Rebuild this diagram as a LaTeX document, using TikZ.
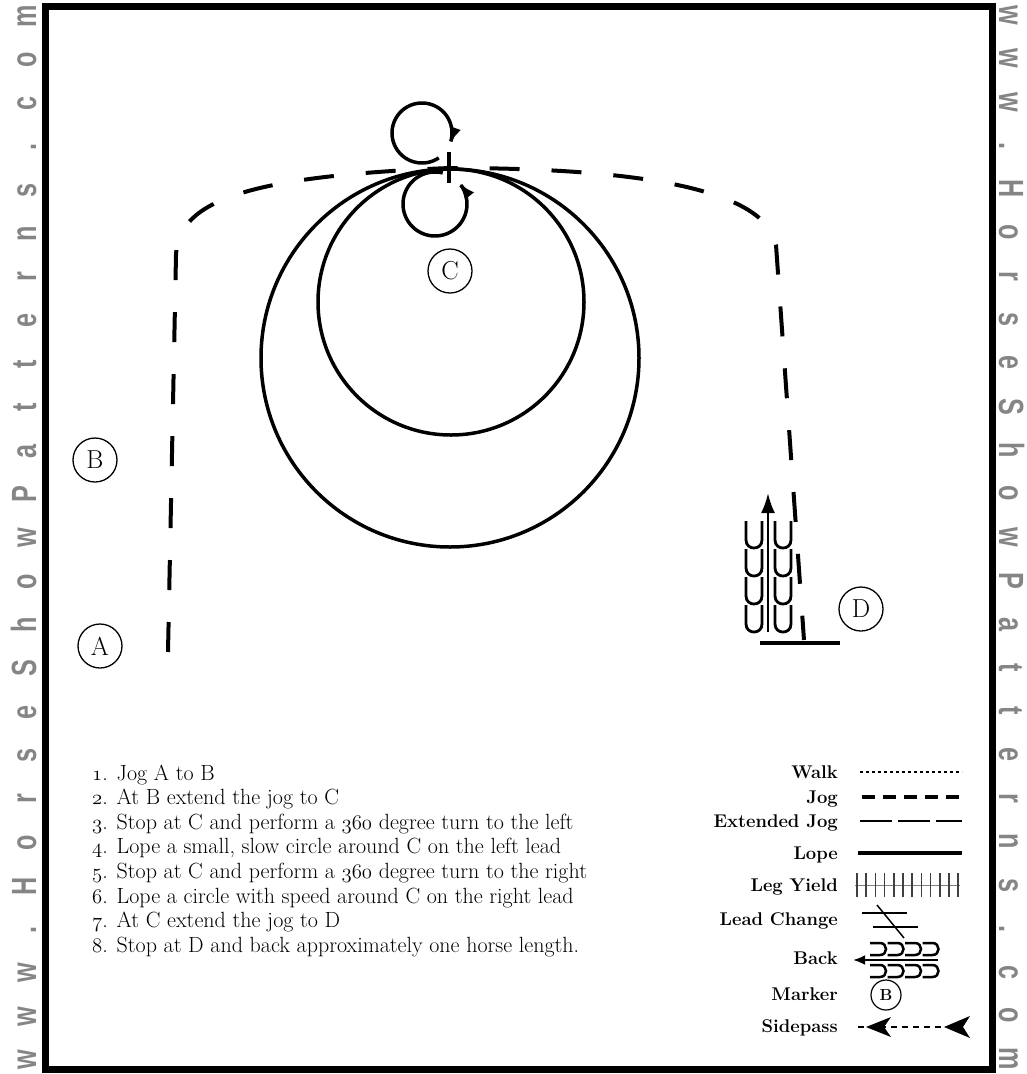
\documentclass[tikz,border=0pt]{standalone}
\usepackage{fontspec}
\newfontfamily\wmfont{Liberation Sans}
\usetikzlibrary{arrows.meta}
\definecolor{wmgray}{gray}{0.52}
\newcommand{\osn}[1]{{\usefont{OML}{cmm}{m}{it}#1}}
\begin{document}
\begin{tikzpicture}[x=1pt,y=-1pt,
  mk/.style={circle,draw,line width=1.3pt,minimum size=44pt,inner sep=0pt,font=\fontsize{26}{26}\selectfont},
  jogline/.style={line width=4pt,dash pattern=on 30pt off 32pt},
  lope/.style={line width=3.5pt},
  instr/.style={anchor=base west,inner sep=0pt,font=\fontsize{22}{24}\selectfont},
  leglab/.style={anchor=base east,inner sep=0pt,font=\bfseries\fontsize{18.4}{18}\selectfont},
  wm/.style={inner sep=0pt,text=wmgray,font=\wmfont\bfseries\fontsize{35}{35}\selectfont}
]
\useasboundingbox (0,0) rectangle (1027,1074);
% frame
\draw[line width=7pt] (45.5,6) rectangle (992.5,1069);
% watermark
\foreach \ch [count=\i from 0] in {w,w,w,.,H,o,r,s,e,S,h,o,w,P,a,t,t,e,r,n,s,.,c,o,m}{
  \node[wm,rotate=90,anchor=base] (wl\i) at (36,{1060-43.5*\i}) {\scalebox{0.72}[1]{\ch}};
  \node[wm,rotate=-90,anchor=base] (wr\i) at (999,{15+43.5*\i}) {\scalebox{0.72}[1]{\ch}};
}
% circles
\draw[lope] (450,358) circle[radius=189pt];
\draw[lope] (451,302) circle[radius=133pt];
% jog path
\draw[jogline] (168,652) -- (176,255) .. controls (178,200) and (250,176) .. (450,168)
  .. controls (620,168) and (765,185) .. (776,245) -- (804,640);
% turn loops
\draw[line width=3.5pt,-{Latex[length=16pt,width=12pt]}] plot[domain=56:380,samples=70,smooth] ({422+30*cos(\x)},{133+30*sin(\x)});
\draw[line width=3.5pt,-{Latex[length=16pt,width=12pt]}] plot[domain=-76:-400,samples=70,smooth] ({435+32*cos(\x)},{204+32*sin(\x)});
\draw[line width=3.5pt] (449,152) -- (449,183);
% back symbol at D
\draw[line width=2.5pt,-{Latex[length=20pt,width=14pt]}] (768,632) -- (768,493);
\foreach \cx in {754,783}{
  \foreach \r in {0,1,2,3}{
    \pgfmathsetmacro{\t}{521+28*\r}
    \pgfmathsetmacro{\b}{\t+27}
    \draw[line width=2.8pt] (\cx-8,\t) -- (\cx-8,\b-8) .. controls (\cx-8,\b+2.7) and (\cx+8,\b+2.7) .. (\cx+8,\b-8) -- (\cx+8,\t);
  }
}
\draw[line width=3.5pt] (760,643) -- (840,643);
% markers
\node[mk] (A) at (100,646) {A};
\node[mk] (B) at (95,460) {B};
\node[mk] (C) at (450,271) {C};
\node[mk] (D) at (861,609) {D};
% instructions
\node[instr] (i1) at (92,780) {\osn{1}. Jog A to B};
\node[instr] (i2) at (92,804.6) {\osn{2}. At B extend the jog to C};
\node[instr] (i3) at (92,829.2) {\osn{3}. Stop at C and perform a \osn{360} degree turn to the left};
\node[instr] (i4) at (92,853.8) {\osn{4}. Lope a small, slow circle around C on the left lead};
\node[instr] (i5) at (92,878.4) {\osn{5}. Stop at C and perform a \osn{360} degree turn to the right};
\node[instr] (i6) at (92,903) {\osn{6}. Lope a circle with speed around C on the right lead};
\node[instr] (i7) at (92,927.6) {\osn{7}. At C extend the jog to D};
\node[instr] (i8) at (92,952.2) {\osn{8}. Stop at D and back approximately one horse length.};
% legend labels
\node[leglab] (lw) at (838,778) {Walk};
\node[leglab] (lj) at (838,803) {Jog};
\node[leglab] (le) at (838,827) {Extended Jog};
\node[leglab] (ll) at (838,859) {Lope};
\node[leglab] (ly) at (838,891) {Leg Yield};
\node[leglab] (lc) at (838,925) {Lead Change};
\node[leglab] (lb) at (838,964) {Back};
\node[leglab] (lm) at (838,1000) {Marker};
\node[leglab] (ls) at (838,1032) {Sidepass};
% legend symbols
\draw[line width=2.5pt,dash pattern=on 3pt off 3pt] (860,772) -- (962,772);
\draw[line width=4pt,dash pattern=on 13pt off 8pt] (862,797) -- (963,797);
\draw[line width=1.6pt,dash pattern=on 32pt off 6pt] (860,821) -- (962,821);
\draw[line width=3.5pt] (858,853) -- (962,853);
\draw[line width=0.8pt,gray] (855,885) -- (960,885);
\foreach \k in {0,...,11} \draw[line width=1.6pt,black!75] ({857+9.2*\k},873) -- ({857+9.2*\k},897);
\draw[line width=1.5pt] (862,913) -- (907,913);
\draw[line width=1.5pt] (873,927) -- (918,927);
\draw[line width=1.5pt] (877,905) -- (904,938);
\draw[line width=2.5pt,-{Latex[length=12pt,width=10pt]}] (938,960) -- (853,960);
\foreach \xo in {870,887.5,905,922.5}{
  \foreach \yt in {943,965}{
    \draw[line width=2.5pt] (\xo,\yt) -- (\xo+10,\yt) .. controls (\xo+18,\yt) and (\xo+18,\yt+12) .. (\xo+10,\yt+12) -- (\xo,\yt+12);
  }
}
\node[circle,draw,line width=1.2pt,minimum size=30pt,inner sep=0pt,font=\bfseries\fontsize{16}{16}\selectfont] (legB) at (886,995) {B};
\draw[line width=2pt,dash pattern=on 6pt off 5pt] (858,1027) -- (945,1027);
\fill (866,1027) -- (891,1017) -- (884,1027) -- (891,1037) -- cycle;
\fill (944,1027) -- (970,1016) -- (963,1027) -- (970,1038) -- cycle;
\end{tikzpicture}
\end{document}
